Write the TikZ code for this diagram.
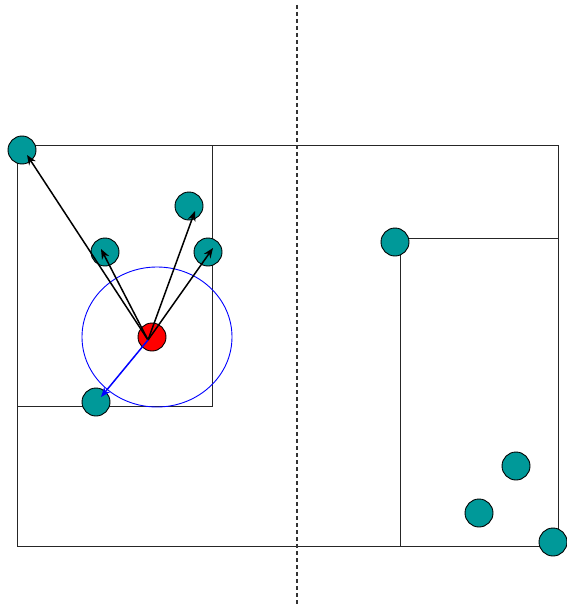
\documentclass[tikz,border=0pt]{standalone}
\usetikzlibrary{arrows.meta,shapes.geometric}
\definecolor{tealc}{RGB}{0,153,153}
\begin{document}
\begin{tikzpicture}[x=1pt,y=-1pt,
  dot/.style={circle,draw=black,line width=0.9pt,fill=tealc,minimum size=28pt,inner sep=0pt},
  reddot/.style={circle,draw=black,line width=0.9pt,fill=red,minimum size=28pt,inner sep=0pt},
  box/.style={draw=black!85,line width=1pt},
  arr/.style={line width=1.5pt,-{Stealth[length=10pt,width=8pt]}}]
\useasboundingbox (0,0) rectangle (566,607);
% rectangles
\draw[box] (17,145) rectangle (558,546);
\draw[box] (17,145) rectangle (212,406);
\draw[box] (400,238) rectangle (558,546);
% dashed divider
\coordinate (dtop) at (297,5);
\coordinate (dbot) at (297,605);
\draw[black!80,line width=1.1pt,dash pattern=on 4pt off 3pt] (dtop) -- (dbot);
% blue range ellipse
\node[ellipse,draw=blue,line width=0.9pt,minimum width=150pt,minimum height=140pt,inner sep=0pt] (range) at (157,337) {};
% teal nodes
\node[dot] (a) at (22,150) {};
\node[dot] (b) at (105,252) {};
\node[dot] (c) at (189,206) {};
\node[dot] (d) at (208,252) {};
\node[dot] (e) at (96,402) {};
\node[dot] (f) at (395,242) {};
\node[dot] (g) at (516,466) {};
\node[dot] (h) at (479,513) {};
\node[dot] (i) at (553,542) {};
% red node
\node[reddot] (r) at (152,337) {};
% arrow endpoints
\coordinate (s) at (148,340);
\coordinate (ta) at (27,155);
\coordinate (tb) at (101,249);
\coordinate (tc) at (195,211);
\coordinate (td) at (213,248);
\coordinate (te) at (101,397);
\draw[arr] (s) -- (ta);
\draw[arr] (s) -- (tb);
\draw[arr] (s) -- (tc);
\draw[arr] (s) -- (td);
\draw[arr,blue] (s) -- (te);
\end{tikzpicture}
\end{document}
